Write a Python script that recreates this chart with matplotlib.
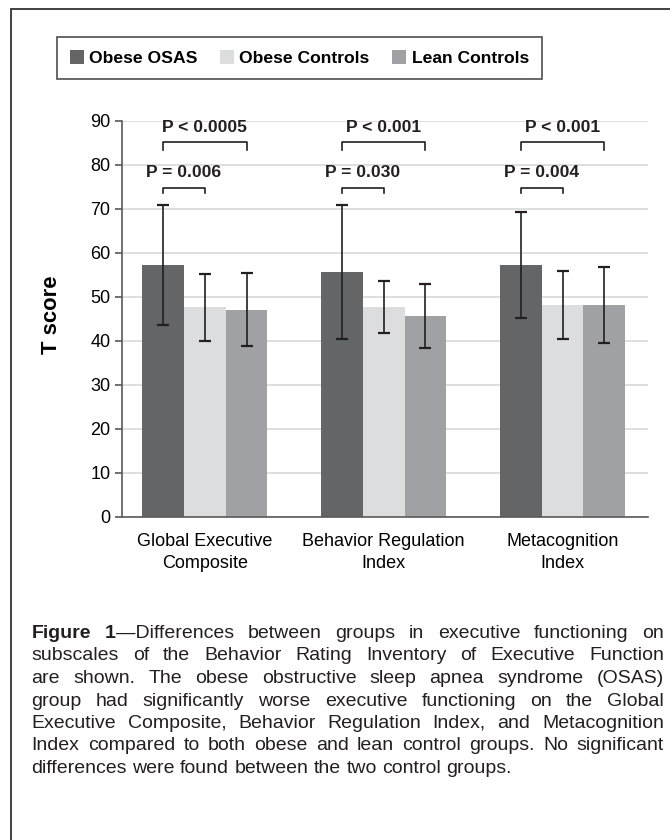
import numpy as np
import matplotlib
matplotlib.use('Agg')
import matplotlib.pyplot as plt
from matplotlib.patches import Rectangle

plt.rcParams['font.family'] = ['Liberation Sans', 'DejaVu Sans']

categories = ['Global Executive\nComposite', 'Behavior Regulation\nIndex', 'Metacognition\nIndex']
groups = ['Obese OSAS', 'Obese Controls', 'Lean Controls']
colors = ['#646567', '#dcdddf', '#a0a1a4']

osas_mean = [57.2, 55.6, 57.2]
osas_sd = [13.7, 15.2, 12.0]
obese_mean = [47.6, 47.6, 48.1]
obese_sd = [7.6, 5.9, 7.8]
lean_mean = [47.0, 45.6, 48.1]
lean_sd = [8.3, 7.2, 8.6]

p_wide = ['P < 0.0005', 'P < 0.001', 'P < 0.001']
p_narrow = ['P = 0.006', 'P = 0.030', 'P = 0.004']

caption = [
    [[('Figure', 'bold')], [('1', 'bold'), ('\u2014Differences', 'normal')], 'between', 'groups', 'in',
     'executive', 'functioning', 'on'],
    'subscales of the Behavior Rating Inventory of Executive Function'.split(),
    'are shown. The obese obstructive sleep apnea syndrome (OSAS)'.split(),
    'group had significantly worse executive functioning on the Global'.split(),
    'Executive Composite, Behavior Regulation Index, and Metacognition'.split(),
    'Index compared to both obese and lean control groups. No significant'.split(),
    'differences were found between the two control groups.'.split(),
]

W, H = 670, 840
fig = plt.figure(figsize=(W / 100, H / 100), dpi=100)

# axes placement in pixels (left, right, y of 0, y of 90)
ax_l, ax_r, y0, y90 = 121.7, 648, 516.7, 120.7
ax = fig.add_axes([ax_l / W, 1 - y0 / H, (ax_r - ax_l) / W, (y0 - y90) / H])

x = np.arange(len(categories))
w = 0.233
series = [(osas_mean, osas_sd), (obese_mean, obese_sd), (lean_mean, lean_sd)]
bars = []
for k, (m, sd) in enumerate(series):
    b = ax.bar(x + (k - 1) * w, m, w, color=colors[k], label=groups[k], zorder=2)
    ax.errorbar(x + (k - 1) * w, m, yerr=sd, fmt='none', ecolor='#231f20',
                elinewidth=1.2, capsize=4, capthick=1.6, zorder=3)
    bars.append(b)

# significance brackets
for i in range(len(categories)):
    xa, xb, xc = i - w, i, i + w
    ax.plot([xa, xa, xc, xc], [83.4, 85.2, 85.2, 83.4], color='#231f20', lw=1.2,
            clip_on=False, zorder=4)
    ax.plot([xa, xa, xb, xb], [73.5, 74.8, 74.8, 73.5], color='#231f20', lw=1.2,
            clip_on=False, zorder=4)
    ax.text(i, 88.5, p_wide[i], ha='center', va='center', fontsize=12.6,
            fontweight='bold', color='#231f20')
    ax.text((xa + xb) / 2, 78.2, p_narrow[i], ha='center', va='center', fontsize=12.6,
            fontweight='bold', color='#231f20')

ax.set_xlim(-0.465, 2.478)
ax.set_ylim(0, 90)
ax.set_yticks(range(0, 91, 10))
ax.set_xticks(x)
ax.set_xticklabels(categories, fontsize=13, linespacing=1.35)
ax.tick_params(axis='x', length=0, pad=12)
ax.tick_params(axis='y', length=5, width=1.2, color='#595959', labelsize=13, pad=3)
ax.yaxis.grid(True, color='#d9d9d9', lw=1.2, zorder=0)
ax.set_axisbelow(True)
for s in ['top', 'right']:
    ax.spines[s].set_visible(False)
for s in ['left', 'bottom']:
    ax.spines[s].set_color('#595959')
    ax.spines[s].set_linewidth(1.2)
ax.set_ylabel('T score', fontsize=15.8, fontweight='bold')
ax.yaxis.set_label_coords((61.7 - ax_l) / (ax_r - ax_l), 0.51)

leg = fig.legend(handles=bars, labels=groups, loc='upper left',
                 bbox_to_anchor=(56.5 / W, 1 - 37 / H), ncol=3, frameon=True,
                 fancybox=False, prop={'weight': 'bold', 'size': 12.6},
                 handlelength=0.8, handleheight=0.8, handletextpad=0.3,
                 columnspacing=1.3, borderpad=0.75, borderaxespad=0)
leg.get_frame().set_edgecolor('#231f20')
leg.get_frame().set_linewidth(1.2)

# outer border of the figure panel
fig.add_artist(Rectangle((10.7 / W, -0.1), 1.2, 1 - 8.7 / H + 0.1, transform=fig.transFigure,
                         fill=False, edgecolor='#333333', lw=1.3))

# justified caption
renderer = fig.canvas.get_renderer()
cap_size = 14.0
x_left, x_right = 31.5, 664
base0, step = 638, 22.5


def seg_width(s, wt):
    t = fig.text(0, 0, s, fontsize=cap_size, fontweight=wt)
    bb = t.get_window_extent(renderer)
    t.remove()
    return bb.width


space_w = seg_width('a a', 'normal') - seg_width('aa', 'normal')
for li, line in enumerate(caption):
    words = [wd if isinstance(wd, list) else [(wd, 'normal')] for wd in line]
    widths = [sum(seg_width(s, wt) for s, wt in wd) for wd in words]
    last = li == len(caption) - 1
    gap = space_w if last else (x_right - x_left - sum(widths)) / (len(words) - 1)
    xp = x_left
    yb = H - (base0 + li * step)
    for wd, wdw in zip(words, widths):
        xs = xp
        for s, wt in wd:
            fig.text(xs / W, yb / H, s, fontsize=cap_size, fontweight=wt,
                     va='baseline', ha='left', color='#231f20')
            xs += seg_width(s, wt)
        xp += wdw + gap

fig.savefig('out.png', dpi=100)
